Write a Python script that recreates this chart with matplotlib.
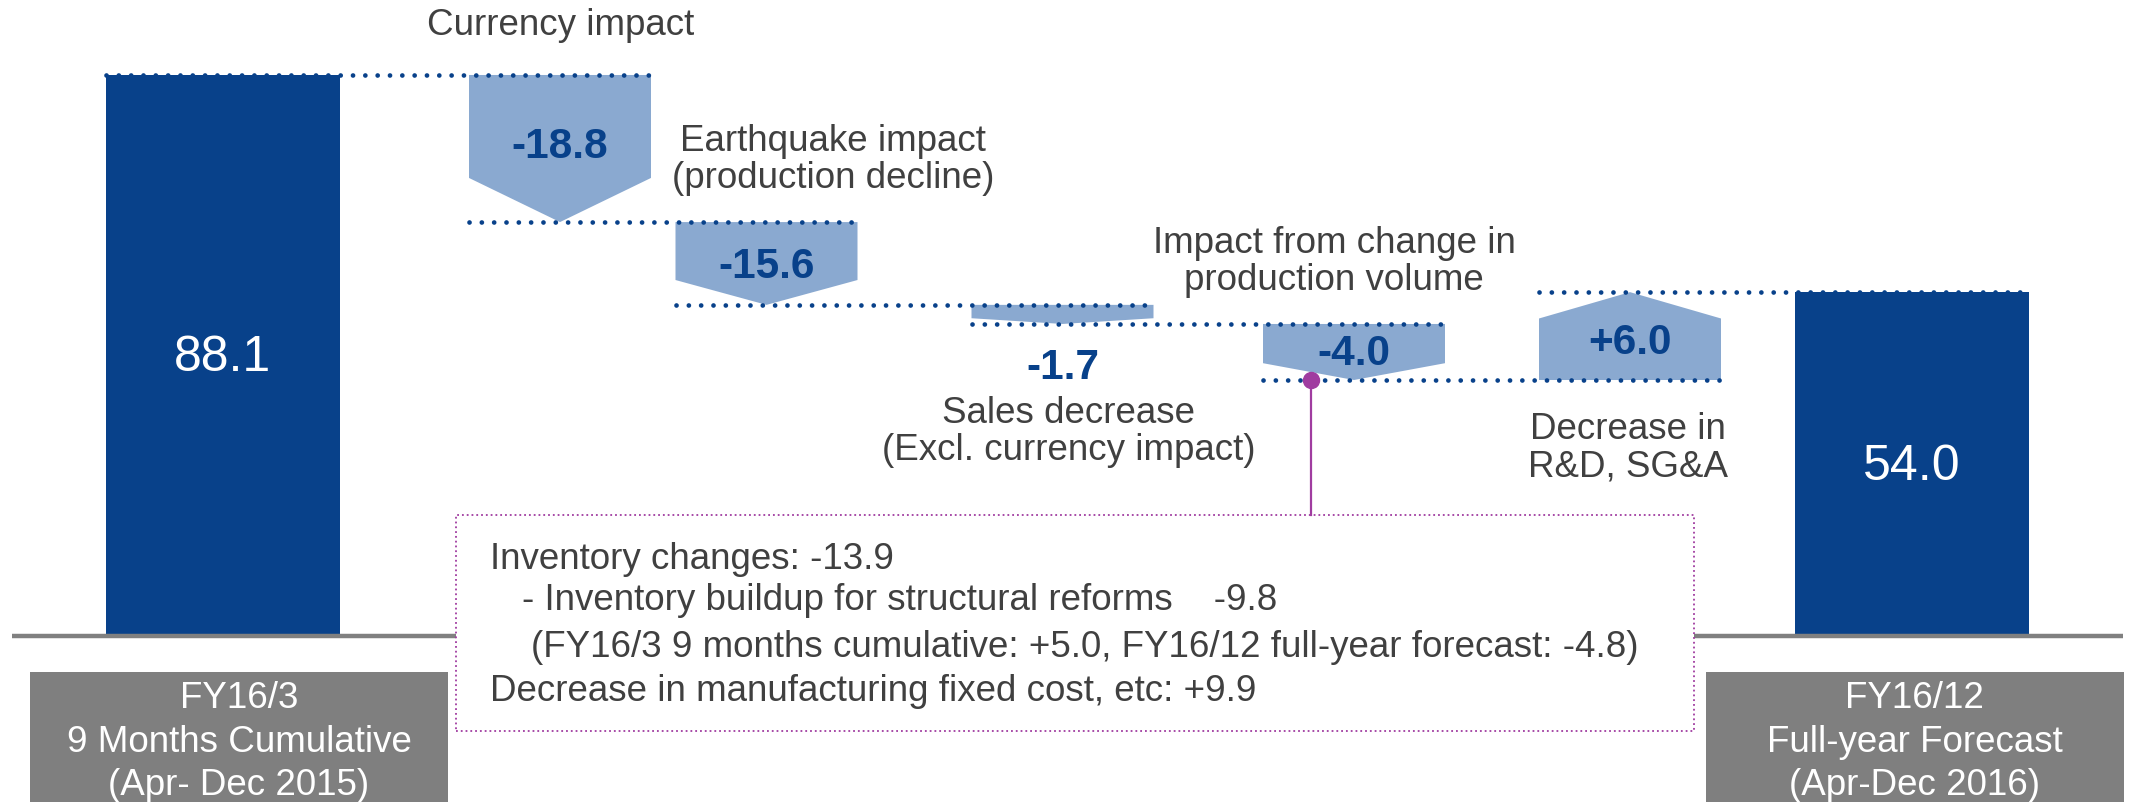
import matplotlib
matplotlib.use("Agg")
import matplotlib.pyplot as plt
from matplotlib.patches import Rectangle, Polygon

plt.rcParams['font.family'] = ['Liberation Sans', 'DejaVu Sans']

# ---- data ----
start_value = 88.1
end_value = 54.0
start_label = "FY16/3\n9 Months Cumulative\n(Apr- Dec 2015)"
end_label = "FY16/12\nFull-year Forecast\n(Apr-Dec 2016)"
step_names = ["Currency impact",
              "Earthquake impact\n(production decline)",
              "Sales decrease\n(Excl. currency impact)",
              "Impact from change in\nproduction volume",
              "Decrease in\nR&D, SG&A"]
step_values = [-18.8, -15.6, -1.7, -4.0, 6.0]
# levels as drawn on the slide (the steps are not drawn to scale)
levels = [88.1, 65.0, 52.0, 49.0, 40.2, 54.0]
note_lines = ["Inventory changes: -13.9",
              "- Inventory buildup for structural reforms    -9.8",
              "(FY16/3 9 months cumulative: +5.0, FY16/12 full-year forecast: -4.8)",
              "Decrease in manufacturing fixed cost, etc: +9.9"]

# ---- style ----
navy = '#08418a'
light = '#8aa9d0'
grey = '#7f7f7f'
txt = '#404040'
purple = '#a03ca0'

W, H = 2134, 803
ppu = 6.368        # pixels per unit
base_px = 166      # baseline height from bottom, px

fig = plt.figure(figsize=(W / 100, H / 100), dpi=100)
ax = fig.add_axes([0, 0, 1, 1])
ax.set_xlim(0, W)
ax.set_ylim(-base_px / ppu, (H - base_px) / ppu)
ax.axis('off')

# layout (x in pixels)
bar_x = [223, 1912]
bar_w = 234
step_x = [560, 766.5, 1062.5, 1354, 1630]
step_w = 182
all_x = [bar_x[0]] + step_x + [bar_x[1]]
all_w = [bar_w] + [step_w] * 5 + [bar_w]

# totals
ax.bar(bar_x, [start_value, end_value], width=bar_w, color=navy, zorder=2)
ax.text(bar_x[0], 43.8, f"{start_value:.1f}", color='white', fontsize=36,
        ha='center', va='center', zorder=5)
ax.text(bar_x[1], 26.7, f"{end_value:.1f}", color='white', fontsize=36,
        ha='center', va='center', zorder=5)

# step arrows (pentagons pointing in the direction of the change)
val_y = [76.9, 58.1, 42.2, 44.4, 46.2]
name_x = [561, 833, 1069, 1334, 1628]
name_y = [96.1, 74.9, 32.2, 58.9, 29.7]
for i, v in enumerate(step_values):
    y0, y1 = levels[i], levels[i + 1]
    xc = step_x[i]
    sh = y1 - 0.3 * (y1 - y0)
    pts = [(xc - step_w / 2, y0), (xc + step_w / 2, y0), (xc + step_w / 2, sh),
           (xc, y1), (xc - step_w / 2, sh)]
    ax.add_patch(Polygon(pts, closed=True, facecolor=light, edgecolor='none', zorder=2))
    ax.text(xc, val_y[i], f"{v:+.1f}" if v > 0 else f"{v:.1f}", color=navy,
            fontsize=30.5, fontweight='bold', ha='center', va='center', zorder=5)
    ax.text(name_x[i], name_y[i], step_names[i], color=txt, fontsize=26.5,
            ha='center', va='center', linespacing=1.1, zorder=5)

# dotted connectors
for i, lv in enumerate(levels):
    x0 = all_x[i] - all_w[i] / 2
    x1 = all_x[i + 1] + all_w[i + 1] / 2
    ax.plot([x0, x1], [lv, lv], color=navy, lw=3.4, linestyle=(0, (0.01, 2.6)),
            dash_capstyle='round', zorder=3)

# baseline
ax.plot([12, 2123], [0, 0], color='#808080', lw=3.2, solid_capstyle='butt', zorder=2)

# category boxes under the totals
box_x = [239, 1914.5]
box_w = 418
for bx, lab in zip(box_x, [start_label, end_label]):
    ax.add_patch(Rectangle((bx - box_w / 2, -30), box_w, 30 - 5.65,
                           facecolor=grey, edgecolor='none', zorder=2))
    ax.text(bx, -16.5, lab, color='white', fontsize=26.5, ha='center',
            va='center', linespacing=1.3, zorder=5)

# callout box
ax.add_patch(Rectangle((456, -14.9), 1238, 33.9, facecolor='white',
                       edgecolor=purple, linestyle=':', lw=1.3, zorder=4))
ax.plot([1311, 1311], [levels[4], 19.0], color=purple, lw=1.6, zorder=4)
ax.plot([1311], [levels[4]], 'o', color=purple, ms=11.5, zorder=6)

note_x = [490, 522, 531, 490]
note_y = [12.1, 5.8, -1.7, -8.6]
for nx, ny, line in zip(note_x, note_y, note_lines):
    ax.text(nx, ny, line, color=txt, fontsize=26.5, ha='left', va='center', zorder=5)

fig.savefig('out.png', dpi=100)
